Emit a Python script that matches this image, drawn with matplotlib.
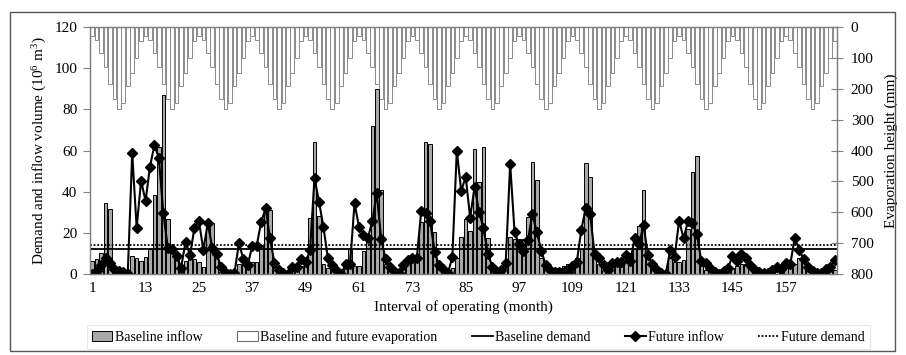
import numpy as np
import matplotlib
matplotlib.use("Agg")
import matplotlib.pyplot as plt
from matplotlib.patches import Patch, Rectangle
from matplotlib.lines import Line2D

plt.rcParams['font.family'] = 'Liberation Serif'
plt.rcParams['mathtext.fontset'] = 'custom'
plt.rcParams['mathtext.rm'] = 'Liberation Serif'
plt.rcParams['mathtext.it'] = 'Liberation Serif:italic'
plt.rcParams['font.size'] = 11

# monthly series, 14 years of operation (10^6 m3)
baseline_inflow = [
    6.3, 7.3, 10.4, 34.7, 31.4, 2.5, 1.5, 1.0, 0.5, 8.9, 7.6, 6.3,
    8.4, 12, 38.4, 61.5, 87, 26.6, 12, 9.5, 4, 6.5, 7.8, 7.3,
    5.8, 3.6, 25.3, 25, 10, 1, 0.5, 0.3, 0.3, 5, 6, 6,
    6, 6, 14, 32.5, 31, 5, 2, 1, 0.5, 3, 3.5, 4,
    6, 27, 64.3, 28.2, 5, 3, 2, 1, 0.5, 4, 12, 4,
    4, 11, 19, 72, 90, 40.8, 5, 3, 2, 1.5, 6, 8,
    9, 9, 25.4, 64.3, 63.2, 20.6, 5, 2, 1, 3, 8, 18.2,
    26.6, 20.9, 60.5, 44.9, 61.9, 17.7, 5, 2, 1, 3, 18, 17,
    17, 17, 27.9, 54.5, 45.7, 8, 3, 1.5, 1, 3, 4, 5,
    6, 8, 12, 53.8, 47, 12, 5, 2, 1, 6, 6, 6,
    7, 10, 12, 23.5, 40.8, 10, 3, 1, 0.5, 0.5, 8, 6,
    6, 7, 22, 49.7, 57.3, 4, 2, 1.5, 1, 0.5, 1, 2,
    3, 4, 5, 5, 3, 2, 1, 0.5, 0.3, 1, 2, 2,
    3, 4, 5, 8, 7, 4, 2, 1, 1, 1.5, 2, 2,
]
future_inflow = [
    0, 1.5, 4.4, 7.6, 5.2, 2.7, 1.5, 0.9, 0.2, 58.6, 22.5, 45.4,
    35.5, 52.2, 62.7, 56.2, 29.5, 12.8, 12.3, 8.9, 3.1, 15.7, 9.2, 22.5,
    25.8, 11.7, 24.9, 12.8, 9.6, 3.6, 0.7, 0.2, 0.5, 14.9, 7.3, 4.4,
    13.8, 13.8, 25.3, 31.9, 17.3, 5.2, 2.0, 0.5, 0, 3.2, 3.2, 7.3,
    6.0, 11.7, 46.8, 35.2, 23.0, 7.8, 4.4, 1.5, 0.2, 4.7, 4.7, 34.4,
    23, 19, 17.3, 25.8, 39.2, 17, 7.3, 3.6, 1.1, 0.3, 4.4, 6.8,
    7.6, 7.6, 30.6, 29.5, 25.8, 10.9, 4.4, 2.3, 0.3, 8.4, 59.9, 40.3,
    47.3, 27.4, 42.4, 30.3, 22.2, 9.9, 3.6, 1.1, 1.9, 5.2, 53.5, 20.2,
    14.4, 11.2, 16.5, 29, 20.6, 11.3, 4.4, 1.9, 0.8, 0.8, 0.8, 0.8,
    4, 6, 21.4, 32.2, 29, 9.6, 7.6, 4.4, 1.9, 5.2, 5.7, 6.0,
    9.2, 6.3, 17.3, 14.4, 23.8, 9.2, 4.7, 1.9, 0.3, 0, 11.7, 8.4,
    26, 17.3, 25.8, 24.6, 19.3, 6.3, 5.2, 2.8, 0.8, 0.2, 1.5, 2.8,
    8.9, 6.3, 9.6, 7.8, 4.4, 1.9, 0.8, 0.3, 0.3, 1.9, 3.6, 2.4,
    5.2, 4.7, 17.7, 11.7, 7.3, 3.2, 1.5, 0.7, 0.3, 2.4, 3.6, 6.8,
]
# monthly evaporation (mm), same for every year
evap_year = [28, 41, 84, 129, 186, 234, 267, 245, 191, 148, 100, 46]
n_years = 14
baseline_demand = 12.0
future_demand = 14.0

months = np.arange(1, len(baseline_inflow) + 1)
evaporation = np.tile(evap_year, n_years)
tick_months = list(range(1, 158, 12))

fig = plt.figure(figsize=(9.06, 3.55), dpi=100)
ax = fig.add_axes([0.0993, 0.228, 0.8245, 0.696])
ax2 = ax.twinx()
# inflow axes drawn above the evaporation axes
ax.set_zorder(ax2.get_zorder() + 1)
ax.patch.set_visible(False)

ax2.bar(months, evaporation, width=0.82, color='white', edgecolor='#8a8a8a', linewidth=0.7)
ax2.set_ylim(800, 0)
ax2.set_yticks(range(0, 801, 100))

ax.bar(months, baseline_inflow, width=0.8, color='#a8a8a8', edgecolor='black', linewidth=0.7)
ax.axhline(baseline_demand, color='black', lw=1.3)
ax.axhline(future_demand, color='black', lw=1.3, ls=(0, (1, 1)))
ax.plot(months, future_inflow, color='black', lw=1.5, marker='D', ms=4.8)

ax.set_xlim(0.5, 168.5)
ax.set_ylim(0, 120)
ax.set_yticks(range(0, 121, 20))
ax.set_xticks(tick_months)

for a in (ax, ax2):
    for s in a.spines.values():
        s.set_color('#808080')
        s.set_linewidth(0.9)
ax.tick_params(axis='x', length=0, pad=6)
ax.tick_params(axis='y', direction='out', length=5, color='#808080', pad=4)
ax2.tick_params(axis='y', direction='inout', length=8, color='#808080', pad=6)

ax.set_ylabel(r'Demand and inflow volume (10$^{6}$ m$^{3}$)')
ax2.set_ylabel('Evaporation height (mm)', labelpad=8)
ax.set_xlabel('Interval of operating (month)', labelpad=3)

handles = [
    Patch(facecolor='#a8a8a8', edgecolor='black', linewidth=0.7),
    Patch(facecolor='white', edgecolor='#6e6e6e', linewidth=0.8),
    Line2D([], [], color='black', lw=1.3),
    Line2D([], [], color='black', lw=1.5, marker='D', ms=4.8),
    Line2D([], [], color='black', lw=1.3, ls=(0, (1, 1))),
]
labels = ['Baseline inflow', 'Baseline and future evaporation', 'Baseline demand',
          'Future inflow', 'Future demand']
leg = fig.legend(handles, labels, loc='center', bbox_to_anchor=(0.528, 0.05), ncol=5,
                 frameon=True, fancybox=False, fontsize=10, handlelength=1.5,
                 handletextpad=0.15, columnspacing=2.5, borderpad=0.35)
leg.get_frame().set_edgecolor('#e3e3e3')
leg.get_frame().set_linewidth(0.8)

# outer frame round the whole chart
fig.patches.append(Rectangle((0.011, 0.012), 0.977, 0.955, transform=fig.transFigure,
                             fill=False, edgecolor='#555555', linewidth=1.0))

fig.savefig('out.png', dpi=100)
